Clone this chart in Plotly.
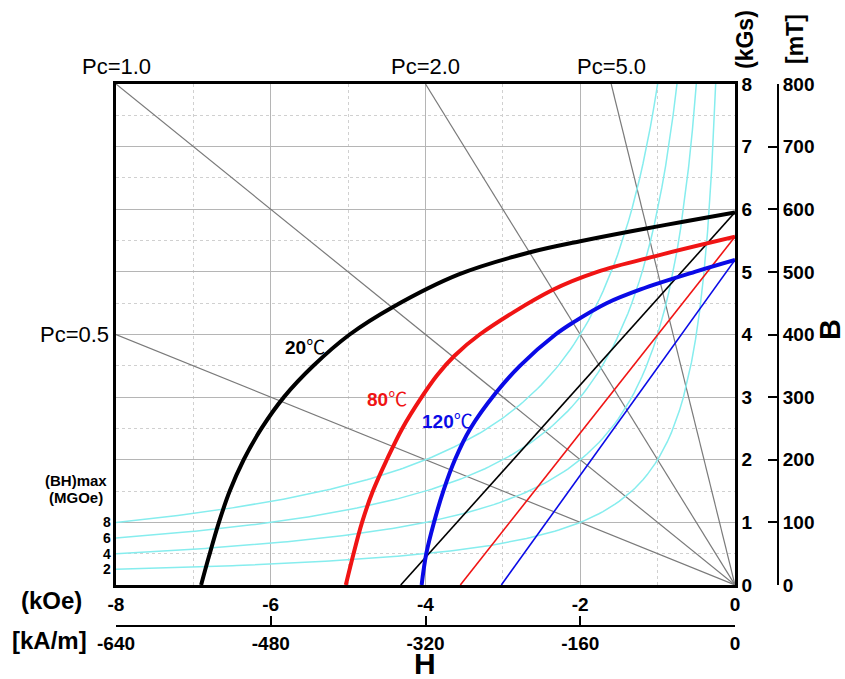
import plotly.graph_objects as go

# ---------------- data ----------------
curve20_H = [-6.90, -6.80, -6.67, -6.53, -6.35, -6.12, -5.83, -5.45, -4.98, -4.42,
             -3.57, -2.66, -2.00, -1.34, -0.67, 0.0]
curve20_B = [0.00, 0.45, 1.00, 1.50, 2.00, 2.50, 3.00, 3.50, 4.00, 4.44,
             4.96, 5.31, 5.49, 5.65, 5.80, 5.95]

curve80_H = [-5.03, -4.93, -4.82, -4.68, -4.50, -4.30, -4.05, -3.85, -3.625, -3.30,
             -2.36, -1.78, -1.00, 0.0]
curve80_B = [0.00, 0.50, 1.00, 1.50, 2.00, 2.50, 3.00, 3.35, 3.66, 4.00,
             4.71, 5.00, 5.26, 5.56]

curve120_H = [-4.05, -3.99, -3.89, -3.77, -3.62, -3.42, -3.09, -2.78, -2.32, -2.095,
              -1.66, -1.22, -0.52, 0.0]
curve120_B = [0.00, 0.50, 1.00, 1.50, 2.00, 2.50, 3.07, 3.50, 4.00, 4.19,
              4.50, 4.72, 5.00, 5.19]

recoil_H = {"20": [-4.32, 0.0], "80": [-3.55, 0.0], "120": [-3.02, 0.0]}
recoil_B = {"20": [0.0, 5.95], "80": [0.0, 5.56], "120": [0.0, 5.19]}

pc_values = [0.5, 1.0, 2.0, 5.0]
pc_labels = ["Pc=0.5", "Pc=1.0", "Pc=2.0", "Pc=5.0"]
bhmax_values = [2, 4, 6, 8]

x_kOe_ticks = [-8, -6, -4, -2, 0]
x_kAm_ticks = [-640, -480, -320, -160, 0]
y_kGs_ticks = [0, 1, 2, 3, 4, 5, 6, 7, 8]
y_mT_ticks = [0, 100, 200, 300, 400, 500, 600, 700, 800]

temp_labels = ["20", "80", "120"]
temp_label_H = [-5.56, -4.50, -3.71]
temp_label_B = [3.82, 3.00, 2.64]

# ---------------- styling ----------------
FONT = "Liberation Sans, Arial, Helvetica, sans-serif"
C_BLACK, C_RED, C_BLUE = "#000000", "#F01414", "#0A0AE6"
C_CYAN = "#86EDEE"
C_GREY = "#7a7a7a"

W, Hh = 845, 679
L, R, T, Bm = 116, 778, 84, 626  # paper edges in px


def px(x):
    return (x - L) / (R - L)


def py(y):
    return (Bm - y) / (Bm - T)


fig = go.Figure()

# Pc load lines (through origin, up to plot edge)
for pc in pc_values:
    if pc * 8 <= 8:
        xe, ye = -8.0, pc * 8
    else:
        xe, ye = -8.0 / pc, 8.0
    fig.add_trace(go.Scatter(x=[0, xe], y=[0, ye], mode="lines",
                             line=dict(color=C_GREY, width=1.2),
                             showlegend=False, hoverinfo="skip"))

# (BH)max iso-energy hyperbolas: B * |H| = const
for bh in bhmax_values:
    h_end = -bh / 8.0
    n = 150
    hs = [-8 + (h_end + 8) * i / (n - 1) for i in range(n)]
    bs = [bh / (-h) for h in hs]
    fig.add_trace(go.Scatter(x=hs, y=bs, mode="lines",
                             line=dict(color=C_CYAN, width=1.5),
                             showlegend=False, hoverinfo="skip"))

# straight (B-H) lines
for key, col in zip(["20", "80", "120"], [C_BLACK, C_RED, C_BLUE]):
    fig.add_trace(go.Scatter(x=recoil_H[key], y=recoil_B[key], mode="lines",
                             line=dict(color=col, width=1.6),
                             showlegend=False, hoverinfo="skip"))

# demagnetisation curves
for hs, bs, col in [(curve20_H, curve20_B, C_BLACK),
                    (curve80_H, curve80_B, C_RED),
                    (curve120_H, curve120_B, C_BLUE)]:
    fig.add_trace(go.Scatter(x=hs, y=bs, mode="lines",
                             line=dict(color=col, width=4, shape="spline", smoothing=1.0),
                             showlegend=False, hoverinfo="skip"))

# dummy traces so the secondary axes are drawn
fig.add_trace(go.Scatter(x=[-640, 0], y=[None, None], xaxis="x2", yaxis="y",
                         showlegend=False, hoverinfo="skip"))
fig.add_trace(go.Scatter(x=[None, None], y=[0, 800], xaxis="x", yaxis="y2",
                         showlegend=False, hoverinfo="skip"))

tickfont = dict(family=FONT, size=19, color="black", weight="bold")


def pann(x, y, text, size, angle=0, bold=True):
    f = dict(family=FONT, size=size, color="black")
    if bold:
        f["weight"] = "bold"
    return dict(x=px(x), y=py(y), xref="paper", yref="paper", text=text, showarrow=False,
                xanchor="center", yanchor="middle", textangle=angle, font=f)


annotations = []
# Pc labels
for pc, lab in zip(pc_values, pc_labels):
    if pc < 1:
        annotations.append(dict(x=-8, y=pc * 8, xref="x", yref="y", text=lab,
                                showarrow=False, xanchor="right", yanchor="middle",
                                xshift=-5, font=dict(family=FONT, size=22, color="black")))
    else:
        xe = -8.0 / pc
        annotations.append(dict(x=xe, y=8, xref="x", yref="y", text=lab,
                                showarrow=False, xanchor="center", yanchor="bottom",
                                yshift=3, font=dict(family=FONT, size=22, color="black")))
# BH max value labels
for bh in bhmax_values:
    annotations.append(dict(x=-8, y=bh / 8.0, xref="x", yref="y", text=str(bh),
                            showarrow=False, xanchor="right", yanchor="middle", xshift=-3,
                            font=dict(family=FONT, size=14, color="black", weight="bold")))
annotations.append(pann(76, 480, "(BH)max", 15))
annotations.append(pann(76, 497, "(MGOe)", 15))
# temperature labels
for lab, hx, by, col in zip(temp_labels, temp_label_H, temp_label_B, [C_BLACK, C_RED, C_BLUE]):
    annotations.append(dict(x=hx, y=by, xref="x", yref="y", xanchor="center", yanchor="middle",
                            text="<b>" + lab + "</b><span style='font-family:Noto Sans CJK SC;font-weight:normal'>℃</span>",
                            showarrow=False, font=dict(family=FONT, size=19, color=col)))
# axis unit labels
annotations += [
    pann(51, 600, "(kOe)", 24),
    pann(49, 640, "[kA/m]", 24),
    pann(425, 663, "H", 30),
    pann(745, 40, "(kGs)", 23, -90),
    pann(795, 39, "[mT]", 23, -90),
    pann(830, 330, "B", 29, -90),
]

fig.update_layout(
    width=W, height=Hh,
    margin=dict(l=L, r=W - R, t=T, b=Hh - Bm, pad=0),
    paper_bgcolor="white", plot_bgcolor="white",
    showlegend=False,
    xaxis=dict(domain=[0, px(735)], range=[-8, 0], tickvals=x_kOe_ticks,
               ticktext=[str(v) for v in x_kOe_ticks],
               showgrid=True, gridcolor="#b5b5b5", gridwidth=1.3,
               minor=dict(tickvals=[-7, -5, -3, -1], showgrid=True, gridcolor="#d0d0d0",
                          griddash="dot", gridwidth=1, ticks=""),
               zeroline=False, showline=True, mirror=True, linecolor="black", linewidth=2.5,
               ticks="", tickfont=tickfont, anchor="y", fixedrange=True),
    yaxis=dict(domain=[py(585), 1], range=[0, 8], tickvals=y_kGs_ticks, side="right",
               showgrid=True, gridcolor="#b5b5b5", gridwidth=1.3,
               minor=dict(tickvals=[0.5, 1.5, 2.5, 3.5, 4.5, 5.5, 6.5, 7.5], showgrid=True,
                          gridcolor="#d0d0d0", griddash="dot", gridwidth=1, ticks=""),
               zeroline=False, showline=True, mirror=True, linecolor="black", linewidth=2.5,
               ticks="", tickfont=tickfont, anchor="x", fixedrange=True),
    xaxis2=dict(overlaying="x", anchor="free", position=0, side="bottom", range=[-640, 0],
                tickvals=x_kAm_ticks, ticktext=[str(v) for v in x_kAm_ticks],
                showgrid=False, zeroline=False, showline=True,
                linecolor="black", linewidth=2, ticks="inside", ticklen=9, tickwidth=2,
                tickcolor="black", tickfont=tickfont, fixedrange=True),
    yaxis2=dict(overlaying="y", anchor="free", position=1, side="right", range=[0, 800],
                tickvals=y_mT_ticks, showgrid=False, zeroline=False, showline=True,
                linecolor="black", linewidth=2, ticks="inside", ticklen=9, tickwidth=2,
                tickcolor="black", tickfont=tickfont, fixedrange=True),
    annotations=annotations,
)

fig.write_html("out.html", config={"displayModeBar": False},
               post_script="document.body.style.margin='0px';")
